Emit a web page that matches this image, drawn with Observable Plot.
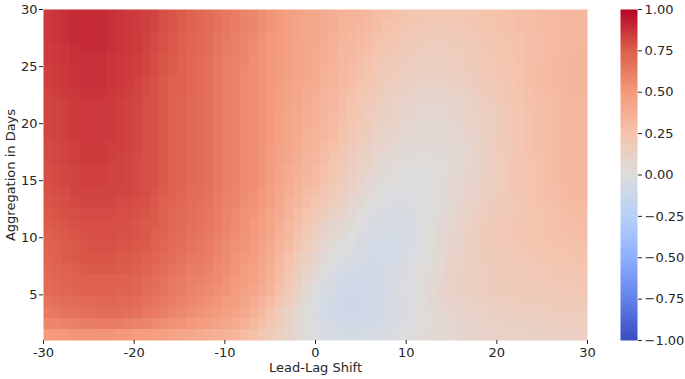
<!DOCTYPE html>
<html><head><meta charset="utf-8">
<script src="https://cdn.jsdelivr.net/npm/d3@7"></script>
<script src="https://cdn.jsdelivr.net/npm/@observablehq/plot@0.6"></script>
<style>
html,body{margin:0;padding:0;background:#fff;}
#chart{display:flex;width:685px;height:379px;}
</style></head><body><div id="chart"></div>
<script>
// Lead-lag shifts (columns) and aggregation windows (rows)
const lags = [-30,-29,-28,-27,-26,-25,-24,-23,-22,-21,-20,-19,-18,-17,-16,-15,-14,-13,-12,-11,-10,-9,-8,-7,-6,-5,-4,-3,-2,-1,0,1,2,3,4,5,6,7,8,9,10,11,12,13,14,15,16,17,18,19,20,21,22,23,24,25,26,27,28,29,30];
const days = [1,2,3,4,5,6,7,8,9,10,11,12,13,14,15,16,17,18,19,20,21,22,23,24,25,26,27,28,29,30];
const xTicks = [-30,-20,-10,0,10,20,30];
const yTicks = [5,10,15,20,25,30];
const cbTicks = [-1,-0.75,-0.5,-0.25,0,0.25,0.5,0.75,1];

// Correlation (in percent) per aggregation window, one value per lag
const day30 = [86,87,88,89,90,90,89,88,87,86, 85,84,82,80,78,76,74,72,70,67, 65,62,60,58,55,52,50,47,45,43, 42,40,38,36,35,34,32,30,28,26, 25,24,23,22,22,22,22,23,24,25, 26,27,27,28,29,30,31,31,32,32,32];
const day29 = [86,87,88,89,90,90,89,88,87,86, 85,84,82,80,78,76,74,72,70,67, 65,62,60,58,55,52,50,47,45,43, 42,40,38,35,34,33,31,29,26,25, 23,22,21,20,20,20,21,22,23,24, 25,26,27,28,29,30,31,31,32,33,33];
const day28 = [86,87,88,89,90,90,89,88,87,86, 85,83,81,79,77,75,73,71,69,66, 64,61,59,57,54,51,49,47,45,43, 41,39,37,34,33,31,29,27,25,23, 21,20,19,18,18,18,19,20,21,23, 24,25,26,27,28,29,30,31,32,33,33];
const day27 = [85,86,87,88,89,89,89,88,87,86, 85,83,81,79,77,75,73,71,69,66, 63,61,58,56,53,51,49,46,44,42, 41,38,36,33,32,30,28,25,23,21, 19,18,17,16,16,17,17,18,20,21, 23,24,26,27,28,29,30,31,32,33,34];
const day26 = [85,86,87,88,88,88,88,87,86,85, 84,82,80,78,76,74,72,70,68,65, 62,60,58,55,52,50,48,46,44,42, 40,38,35,33,31,28,26,23,21,19, 17,16,15,15,15,16,16,17,19,20, 22,24,25,27,28,29,31,32,33,34,34];
const day25 = [84,85,86,87,88,88,88,87,86,85, 84,82,80,78,76,74,72,70,68,65, 62,60,57,55,52,50,48,46,44,42, 40,37,35,32,30,27,25,22,20,18, 16,15,14,14,14,15,16,17,18,20, 22,23,25,26,28,30,31,32,33,34,34];
const day24 = [84,85,86,87,88,88,88,87,86,85, 83,81,79,77,75,74,72,70,68,65, 62,60,57,55,52,50,48,45,43,41, 39,36,34,31,29,26,23,21,18,16, 14,13,12,12,12,13,14,15,17,19, 21,22,24,26,28,30,31,32,33,34,34];
const day23 = [83,84,85,86,87,87,87,86,85,84, 83,81,79,77,75,74,72,70,68,65, 62,60,57,55,52,50,47,45,43,40, 38,35,33,30,27,24,22,19,16,14, 13,11,10,10,10,11,12,13,15,17, 20,21,23,25,27,29,30,31,33,34,34];
const day22 = [82,83,84,85,86,86,86,85,84,83, 82,80,79,77,75,73,71,70,68,65, 62,60,57,55,52,50,47,44,42,39, 37,34,32,29,25,22,19,17,14,12, 11,9,8,8,8,9,10,12,13,15, 18,20,23,25,27,28,29,31,32,33,33];
const day21 = [82,83,84,85,86,86,86,85,84,83, 82,80,79,77,75,73,71,70,68,65, 62,60,57,55,52,50,46,43,41,38, 36,34,31,28,24,21,18,15,13,11, 9,8,7,7,7,8,9,11,12,14, 17,19,22,24,26,28,29,30,32,33,33];
const day20 = [82,83,84,85,86,86,86,85,84,83, 82,80,79,77,75,73,71,70,68,65, 62,60,57,55,52,50,46,43,41,38, 36,33,30,27,23,20,17,14,12,10, 8,7,6,6,6,7,8,10,12,14, 17,19,22,24,26,28,29,30,32,33,33];
const day19 = [82,83,84,85,86,86,86,85,84,83, 82,80,79,77,75,73,71,70,68,65, 62,60,57,55,52,50,46,42,40,37, 35,32,29,25,21,18,15,12,10,8, 6,6,5,5,5,6,7,9,11,14, 17,19,22,24,26,28,29,30,32,33,33];
const day18 = [81,82,83,84,85,85,85,84,84,83, 82,80,79,77,75,73,71,70,68,65, 62,60,57,55,52,49,45,42,39,36, 34,30,27,23,19,16,13,10,8,6, 5,4,4,4,4,5,6,8,11,13, 16,19,21,24,26,28,29,30,32,33,33];
const day17 = [81,82,83,84,85,85,85,84,83,82, 81,80,79,77,75,73,71,70,68,65, 62,60,57,55,52,49,45,41,38,35, 32,29,25,21,17,14,11,8,6,4, 3,3,2,3,3,4,6,8,10,13, 16,18,21,23,25,27,29,30,32,33,33];
const day16 = [80,81,82,83,84,84,84,83,83,82, 81,80,79,77,75,73,71,70,68,65, 62,60,57,55,52,48,44,40,37,34, 31,27,23,19,15,12,9,6,4,2, 1,1,1,2,2,3,5,8,10,13, 16,18,21,23,25,27,29,30,32,33,33];
const day15 = [80,81,82,83,84,84,84,83,83,82, 81,80,79,77,75,73,71,70,68,65, 62,60,57,55,52,48,44,40,36,33, 30,26,22,18,14,10,7,4,2,1, 0,0,1,2,3,5,7,9,11,14, 16,18,21,23,25,27,29,30,32,33,33];
const day14 = [79,80,81,82,83,83,83,83,82,82, 81,80,78,76,74,72,70,69,67,64, 61,59,56,54,51,47,42,38,34,30, 27,23,19,15,11,8,5,2,0,-1, -1,-1,0,1,3,5,7,9,12,14, 16,18,21,23,25,26,28,29,31,32,32];
const day13 = [78,79,80,81,82,82,82,82,81,81, 80,79,77,75,73,71,69,68,66,63, 60,58,55,53,50,46,41,36,32,28, 24,20,16,12,8,5,2,0,-2,-3, -3,-2,-1,1,3,5,8,10,12,15, 17,19,21,22,24,26,27,28,30,31,31];
const day12 = [77,78,79,80,81,81,81,81,80,80, 79,78,76,74,72,70,68,67,65,62, 59,57,54,52,48,44,40,35,30,25, 21,17,13,9,5,2,-1,-3,-4,-4, -4,-3,-1,1,4,6,9,11,14,16, 18,20,21,22,24,25,26,27,29,30,30];
const day11 = [76,77,78,79,80,80,80,80,80,79, 78,77,76,74,72,70,68,67,65,62, 59,56,54,51,47,43,38,33,28,22, 18,13,9,6,3,0,-3,-4,-5,-5, -5,-3,-1,2,5,7,10,12,15,17, 19,20,22,23,24,25,26,27,28,29,29];
const day10 = [75,76,77,78,79,80,80,80,79,79, 78,77,75,73,71,69,67,66,64,61, 58,55,53,50,46,42,37,32,26,20, 15,10,6,3,0,-3,-5,-6,-6,-6, -5,-3,-1,2,5,8,11,14,16,18, 19,21,22,23,24,25,26,27,27,28,28];
const day9 = [74,75,76,77,78,79,79,79,78,78, 77,76,74,72,70,68,66,65,63,60, 57,54,52,49,45,40,35,30,23,17, 12,7,3,0,-2,-4,-6,-7,-7,-6, -5,-3,-1,2,5,8,11,14,16,17, 19,20,21,22,23,24,25,26,26,27,27];
const day8 = [73,74,76,77,78,78,78,78,77,77, 76,75,73,71,69,67,65,64,62,59, 56,53,51,48,44,39,33,27,20,14, 9,4,0,-2,-4,-6,-7,-7,-7,-6, -4,-2,0,3,6,9,12,14,16,17, 18,19,20,21,22,23,24,25,25,26,26];
const day7 = [72,73,74,75,76,77,77,77,76,76, 75,73,71,69,67,65,63,62,60,57, 55,52,49,46,42,37,31,25,18,11, 6,2,-2,-5,-6,-7,-8,-8,-7,-5, -3,-1,1,4,7,10,12,14,15,16, 18,18,19,20,21,21,22,23,23,24,24];
const day6 = [71,72,73,74,75,75,75,75,74,74, 73,71,69,67,65,63,61,60,58,56, 53,50,48,45,41,36,29,22,15,8, 3,-1,-4,-7,-8,-9,-9,-8,-7,-5, -3,0,2,5,8,11,13,14,15,16, 17,18,18,19,20,20,21,21,22,22,23];
const day5 = [70,71,72,73,74,74,74,74,73,73, 72,70,68,66,64,62,60,58,57,54, 52,49,46,43,39,34,27,20,12,5, 0,-4,-7,-9,-10,-10,-9,-8,-7,-4, -2,0,3,6,9,11,13,14,15,16, 17,17,18,18,19,19,20,20,21,21,22];
const day4 = [67,68,69,70,71,71,72,72,71,71, 70,68,66,64,62,60,58,56,54,52, 49,47,44,40,35,30,23,16,9,3, -2,-5,-8,-10,-11,-10,-9,-8,-7,-5, -3,-1,2,5,8,10,11,12,13,14, 15,16,16,17,17,18,18,19,19,19,20];
const day3 = [64,65,66,67,68,68,69,69,69,68, 67,65,63,61,59,57,55,53,51,49, 46,44,41,37,31,25,18,12,6,1, -3,-6,-9,-10,-11,-10,-9,-8,-7,-5, -3,-1,2,4,6,8,9,10,11,12, 13,14,14,15,15,16,16,17,17,17,17];
const day2 = [58,59,60,61,62,62,63,63,62,61, 60,59,57,55,54,52,50,48,47,45, 43,40,37,33,28,23,17,11,6,1, -2,-5,-7,-8,-9,-8,-8,-7,-6,-4, -2,0,2,4,6,7,8,9,10,11, 12,12,13,13,14,14,15,15,15,16,16];
const day1 = [50,50,51,52,52,52,52,52,51,50, 49,48,47,46,44,43,41,40,38,37, 35,33,30,27,23,19,14,10,5,1, -2,-4,-5,-6,-6,-6,-5,-4,-3,-2, 0,1,3,5,6,7,8,9,10,10, 11,11,12,12,13,13,13,14,14,14,14];

// coolwarm colormap stops
const coolwarm = ["#3b4cc0","#6282ea","#8db0fe","#b8d0f9","#dddddd","#f5c4ad","#f49a7b","#de604d","#b40426"];

const rowsTopDown = [day30,day29,day28,day27,day26,day25,day24,day23,day22,day21,day20,day19,day18,day17,day16,day15,day14,day13,day12,day11,day10,day9,day8,day7,day6,day5,day4,day3,day2,day1];
const grid = rowsTopDown.flatMap(r => r.map(v => v / 100));

const font = "'DejaVu Sans', sans-serif";
const fs = 13;
const ink = "#262626";
const color = {type: "linear", domain: [-1, 1], interpolate: d3.piecewise(d3.interpolateRgb, coolwarm)};

const main = Plot.plot({
  width: 600, height: 379,
  marginLeft: 43, marginRight: 13, marginTop: 9, marginBottom: 39,
  style: {fontFamily: font, fontSize: fs + "px", color: ink, background: "white", overflow: "visible"},
  x: {domain: [lags[0], lags[lags.length - 1]]},
  y: {domain: [days[0], days[days.length - 1]]},
  color,
  marks: [
    Plot.raster(grid, {
      width: lags.length, height: days.length,
      x1: lags[0], x2: lags[lags.length - 1],
      y1: days[days.length - 1], y2: days[0],
      fill: d => d, imageRendering: "pixelated"
    }),
    Plot.axisX({ticks: xTicks, tickFormat: d => String(d), tickSize: 4, tickPadding: 3.5, label: null, fontSize: fs}),
    Plot.axisY({ticks: yTicks, tickFormat: d => String(d), tickSize: 4, tickPadding: 2, label: null, fontSize: fs}),
    Plot.text(["Lead-Lag Shift"], {frameAnchor: "bottom", textAnchor: "middle", dy: 31, fontSize: fs, fill: ink}),
    Plot.text(["Aggregation in Days"], {frameAnchor: "left", textAnchor: "middle", dx: -33, rotate: -90, fontSize: fs, fill: ink})
  ]
});

const ramp = d3.range(256).map(i => 1 - (i + 0.5) / 128);
const bar = Plot.plot({
  width: 85, height: 379,
  marginLeft: 20, marginRight: 48, marginTop: 9, marginBottom: 39,
  style: {fontFamily: font, fontSize: fs + "px", color: ink, background: "white", overflow: "visible"},
  x: {domain: [0, 1], axis: null},
  y: {domain: [cbTicks[0], cbTicks[cbTicks.length - 1]]},
  color,
  marks: [
    Plot.raster(ramp, {width: 1, height: ramp.length, x1: 0, x2: 1, y1: 1, y2: -1, fill: d => d}),
    Plot.axisY({anchor: "right", ticks: cbTicks, tickFormat: d => d.toFixed(2).replace("-", "\u2212"), tickSize: 4, tickPadding: 3, label: null, fontSize: fs})
  ]
});

const el = document.getElementById("chart");
el.append(main, bar);
</script>
</body></html>
